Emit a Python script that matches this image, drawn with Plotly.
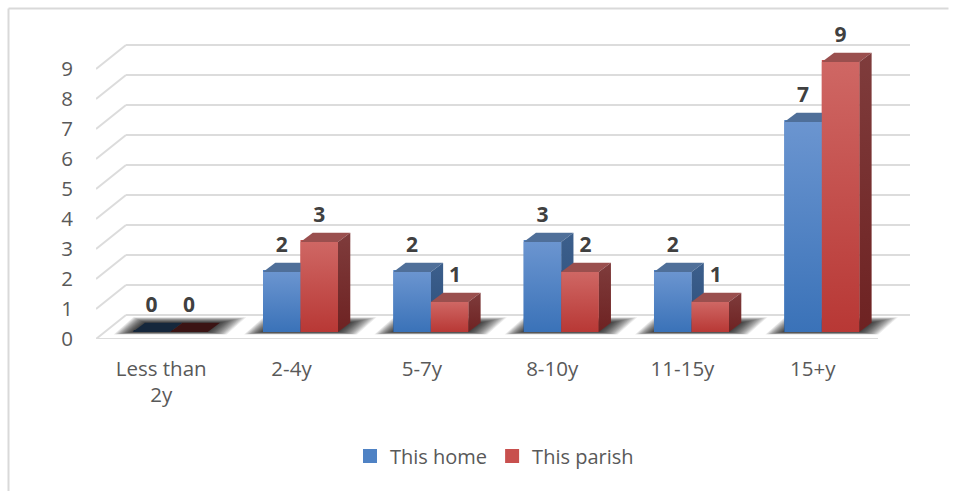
import plotly.graph_objects as go

categories = ["Less than<br>2y", "2-4y", "5-7y", "8-10y", "11-15y", "15+y"]
this_home = [0, 2, 2, 3, 2, 7]
this_parish = [0, 3, 1, 2, 1, 9]
value_ticks = list(range(0, 10))

# Pixel layout of the pseudo-3D box (converted to data units below)
W, H = 965, 491
PLOT_L, PLOT_R, PLOT_T, PLOT_B = 96, 910, 20, 339
PX_PER_CAT = 130.33
PX_PER_VAL = 30.0
sx = 1 / PX_PER_CAT
sy = 1 / PX_PER_VAL
x_rng = [-0.5, -0.5 + (PLOT_R - PLOT_L) * sx]
y_rng = [0, (PLOT_B - PLOT_T) * sy]

WALL_DX, WALL_DY = 30 * sx, 24 * sy     # floor depth
BAR_DX, BAR_DY = 12.3 * sx, 9.3 * sy    # bar depth
BASE = 7 * sy                           # bar front sits a little behind floor edge
BAR_W = 37.5 * sx
SHIFT = 9 * sx

GRID = "#dcdcdc"
TICK = "#595959"
LABEL = "#404040"
FONT = "Open Sans"

STYLE = {
    "home": dict(front=("#3a72b8", "#6b95d0"), side=("#2d4f7c", "#3c5f8c"), top="#4f6f99",
                 zero="#15273c", legend="#4f82c4"),
    "parish": dict(front=("#b83835", "#cf6764"), side=("#6e2222", "#7f3c3c"), top="#9a4f4e",
                   zero="#3b1414", legend="#c8504e"),
}

fig = go.Figure()

# Axes-box grid: side wall diagonals + back wall lines + floor
shapes = []
for v in value_ticks:
    shapes.append(dict(type="line", xref="x", yref="y", layer="below",
                       x0=-0.5, y0=v, x1=-0.5 + WALL_DX, y1=v + WALL_DY,
                       line=dict(color=GRID, width=2)))
    shapes.append(dict(type="line", xref="x", yref="y", layer="below",
                       x0=-0.5 + WALL_DX, y0=v + WALL_DY, x1=x_rng[1], y1=v + WALL_DY,
                       line=dict(color=GRID, width=2)))
shapes.append(dict(type="line", xref="x", yref="y", layer="below",
                   x0=-0.5, y0=0, x1=5.5, y1=0, line=dict(color=GRID, width=2)))
# Chart frame: left and top edges only
FRAME_X0 = (8.5 - PLOT_L) / (PLOT_R - PLOT_L)
FRAME_X1 = (948.5 - PLOT_L) / (PLOT_R - PLOT_L)
FRAME_Y0 = (PLOT_B - 491.5) / (PLOT_B - PLOT_T)
FRAME_Y1 = (PLOT_B - 8.5) / (PLOT_B - PLOT_T)
for x0, y0, x1, y1 in ((FRAME_X0, FRAME_Y0, FRAME_X0, FRAME_Y1),
                       (FRAME_X0, FRAME_Y1, FRAME_X1, FRAME_Y1)):
    shapes.append(dict(type="line", xref="paper", yref="paper", layer="below",
                       x0=x0, y0=y0, x1=x1, y1=y1, line=dict(color="#d9d9d9", width=2)))


def poly(xs, ys, **kw):
    fig.add_trace(go.Scatter(x=xs, y=ys, mode="lines", fill="toself", line=dict(width=0),
                             showlegend=False, hoverinfo="skip", **kw))


# Data-bearing bars (stroke widens the legend swatch; covered by the faces drawn later)
for name, vals, key, off in (("This home", this_home, "home", -BAR_W / 2),
                             ("This parish", this_parish, "parish", BAR_W / 2)):
    fig.add_trace(go.Bar(x=[i + SHIFT + off for i in range(len(vals))], y=vals,
                         base=BASE + 1 * sy, width=BAR_W - 2 * sx, name=name,
                         marker=dict(color=STYLE[key]["legend"],
                                     line=dict(color=STYLE[key]["legend"], width=2))))

# Soft floor shadow: many faint nested parallelograms, outermost first
SHADOW_STEPS = 16
for n in range(SHADOW_STEPS):
    f = 1 - n / SHADOW_STEPS
    xs, ys = [], []
    for i in range(len(categories)):
        l = i + SHIFT - BAR_W - 19 * f * sx
        r = i + SHIFT + BAR_W + 19 * f * sx
        b = BASE - 2.5 * f * sy
        t = BASE + BAR_DY + 5.5 * f * sy
        d = 12.3 * (t - BASE) / BAR_DY * sx
        xs += [l, r, r + d, l + d, l, None]
        ys += [b, b, t, t, b, None]
    poly(xs, ys, fillcolor="rgba(0,0,0,0.075)")

# Pseudo-3D faces
for i in range(len(categories)):
    for vals, key, off in ((this_home, "home", -BAR_W), (this_parish, "parish", 0)):
        v = vals[i]
        st = STYLE[key]
        x0 = i + SHIFT + off
        x1 = x0 + BAR_W
        y0 = BASE
        y1 = BASE + v
        # top
        poly([x0, x1, x1 + BAR_DX, x0 + BAR_DX, x0], [y1, y1, y1 + BAR_DY, y1 + BAR_DY, y1],
             fillcolor=st["top"] if v > 0 else st["zero"])
        if v > 0:
            # side
            poly([x1, x1 + BAR_DX, x1 + BAR_DX, x1, x1], [y0, y0 + BAR_DY, y1 + BAR_DY, y1, y0],
                 fillgradient=dict(type="vertical",
                                   colorscale=[[0, st["side"][0]], [1, st["side"][1]]]),
                 fillcolor=st["side"][0])
            # front
            poly([x0, x1, x1, x0, x0], [y0, y0, y1, y1, y0],
                 fillgradient=dict(type="vertical",
                                   colorscale=[[0, st["front"][0]], [1, st["front"][1]]]),
                 fillcolor=st["front"][0])

# Data labels (a shorter red bar has its label pushed clear of the blue bar's side face)
home_x = [i + SHIFT - BAR_W / 2 for i in range(len(this_home))]
parish_x = [i + SHIFT + BAR_W / 2 + (5.5 * sx if p < h else 0)
            for i, (h, p) in enumerate(zip(this_home, this_parish))]
for xs, vals in ((home_x, this_home), (parish_x, this_parish)):
    fig.add_trace(go.Scatter(x=xs, y=[v + BASE + 25 * sy for v in vals],
                             mode="text", text=[str(v) for v in vals], cliponaxis=False,
                             textposition="middle center", showlegend=False, hoverinfo="skip",
                             textfont=dict(family=FONT, size=21, color=LABEL, weight="bold")))

fig.update_layout(
    width=W, height=H,
    margin=dict(l=PLOT_L, r=W - PLOT_R, t=PLOT_T, b=H - PLOT_B, pad=0),
    paper_bgcolor="white", plot_bgcolor="rgba(0,0,0,0)",
    barmode="overlay", shapes=shapes,
    font=dict(family=FONT, size=20.5, color=TICK),
    xaxis=dict(range=x_rng, tickmode="array", tickvals=list(range(len(categories))),
               ticktext=categories, showgrid=False, zeroline=False, showline=False,
               ticks="", ticklabelstandoff=15, tickangle=0, fixedrange=True),
    yaxis=dict(range=y_rng, tickmode="array", tickvals=value_ticks,
               ticktext=[str(v) for v in value_ticks], showgrid=False, zeroline=False,
               showline=False, ticks="", ticklabelstandoff=22, fixedrange=True),
    legend=dict(orientation="h", x=(494.5 - PLOT_L) / (PLOT_R - PLOT_L), xanchor="center",
                y=(PLOT_B - 456) / (PLOT_B - PLOT_T), yanchor="middle",
                font=dict(family=FONT, size=20, color=TICK), traceorder="normal",
                bgcolor="rgba(0,0,0,0)"),
    showlegend=True,
)

fig.write_html("out.html", config={"displayModeBar": False},
               post_script="document.body.style.margin='0';document.body.style.overflow='hidden';")
